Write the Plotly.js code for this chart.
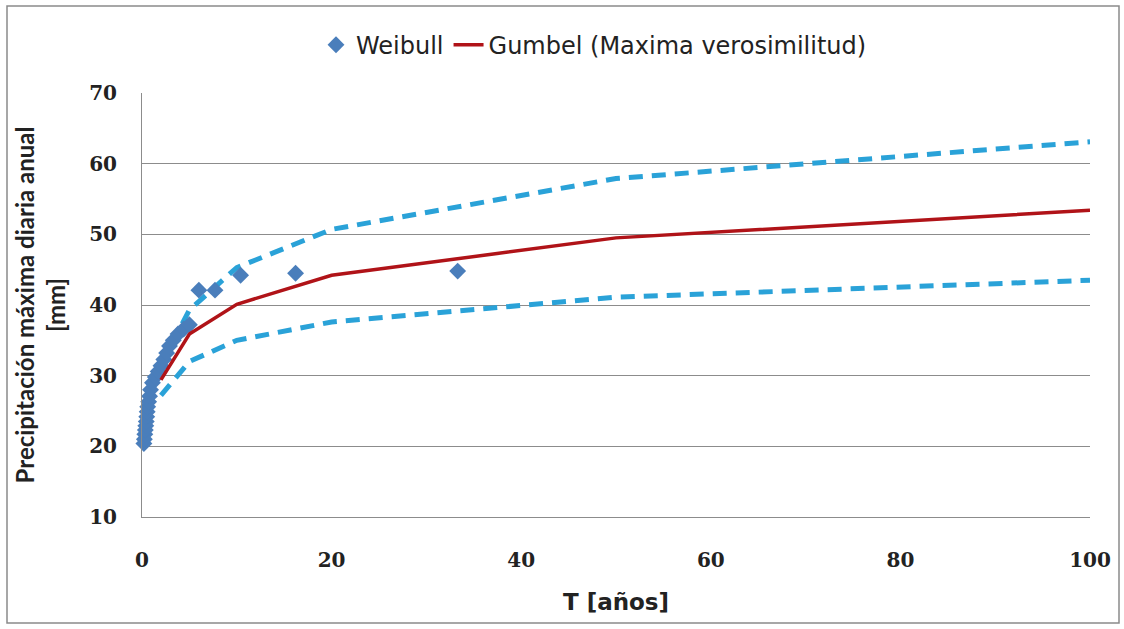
<!DOCTYPE html>
<html>
<head>
<meta charset="utf-8">
<script src="https://cdn.plot.ly/plotly-3.0.1.min.js"></script>
<style>html,body{margin:0;padding:0;background:#fff;}#chart{width:1124px;height:629px;}</style>
</head>
<body>
<div id="chart"></div>
<script>
// Weibull empirical points
var weibullT = [0.2, 0.25, 0.3, 0.35, 0.4, 0.45, 0.5, 0.55, 0.6, 0.7, 0.8, 0.9, 1.1, 1.4, 1.7, 2.0, 2.3, 2.6, 2.9, 3.3, 3.8, 4.4, 5.0, 6.0, 7.7, 10.4, 16.2, 33.3];
var weibullP = [20.4, 21.0, 21.7, 22.3, 22.9, 23.5, 24.2, 24.9, 25.6, 26.3, 27.1, 28.0, 29.0, 29.8, 30.6, 31.4, 32.3, 33.2, 34.2, 35.0, 35.9, 36.6, 37.2, 42.1, 42.1, 44.2, 44.5, 44.8];

// Gumbel fit and confidence bands
var gumbelT = [2, 5, 10, 20, 50, 100];
var gumbelP = [29.4, 35.9, 40.1, 44.2, 49.5, 53.4];
var upperP  = [31.6, 39.3, 45.3, 50.7, 57.9, 63.1];
var lowerP  = [27.2, 32.0, 35.0, 37.6, 41.1, 43.5];

var xTicks = [0, 20, 40, 60, 80, 100];
var yTicks = [10, 20, 30, 40, 50, 60, 70];

var bandColor = '#2AA2D8';
var dashStyle = '14px,9px';

var traces = [
  {x: gumbelT, y: upperP, mode: 'lines', showlegend: false, hoverinfo: 'skip',
   line: {color: bandColor, width: 5, dash: dashStyle}},
  {x: gumbelT, y: lowerP, mode: 'lines', showlegend: false, hoverinfo: 'skip',
   line: {color: bandColor, width: 5, dash: dashStyle}},
  {x: weibullT, y: weibullP, mode: 'markers', name: 'Weibull', cliponaxis: false,
   marker: {symbol: 'diamond', size: 13, color: '#4A7EBB'}},
  {x: gumbelT, y: gumbelP, mode: 'lines', name: 'Gumbel (Maxima verosimilitud)',
   line: {color: '#B01318', width: 3.5}}
];

var layout = {
  width: 1124, height: 629,
  margin: {l: 142, r: 34, t: 93, b: 112},
  paper_bgcolor: '#ffffff', plot_bgcolor: '#ffffff',
  showlegend: true,
  legend: {orientation: 'h', x: (316 - 142) / 948, xanchor: 'left', y: 1.113, yanchor: 'middle',
           traceorder: 'normal',
           font: {family: 'DejaVu Sans, sans-serif', size: 24, color: '#222'}},
  xaxis: {range: [0, 100], tickvals: xTicks, ticktext: xTicks.map(String),
          showgrid: false, zeroline: false, showline: true, linecolor: '#8c8c8c', linewidth: 1,
          ticks: '', ticklabelstandoff: 25,
          tickfont: {family: 'DejaVu Serif', size: 20, weight: 'bold', color: '#222'},
          title: {text: 'T [años]', standoff: 22,
                  font: {family: 'DejaVu Sans, sans-serif', size: 23, weight: 'bold', color: '#222'}}},
  yaxis: {range: [10, 70], tickvals: yTicks, ticktext: yTicks.map(String),
          showgrid: true, gridcolor: '#8c8c8c', gridwidth: 1, zeroline: false,
          showline: true, linecolor: '#8c8c8c', linewidth: 1, ticks: '', ticklabelstandoff: 20,
          tickfont: {family: 'DejaVu Serif', size: 20, weight: 'bold', color: '#222'},
          title: {text: 'Precipitación máxima diaria anual<br>[mm]', standoff: 16,
                  font: {family: 'Lato, Open Sans, sans-serif', size: 24, weight: 'bold', color: '#222'}}},
  shapes: [
    {type: 'rect', xref: 'paper', yref: 'paper',
     x0: (7 - 142) / 948, x1: (1119 - 142) / 948, y0: (517 - 623) / 424, y1: (517 - 6) / 424,
     line: {color: '#8a8a8a', width: 1.5}, fillcolor: 'rgba(0,0,0,0)', layer: 'below'}
  ]
};

Plotly.newPlot('chart', traces, layout, {displayModeBar: false, staticPlot: true});
</script>
</body>
</html>
